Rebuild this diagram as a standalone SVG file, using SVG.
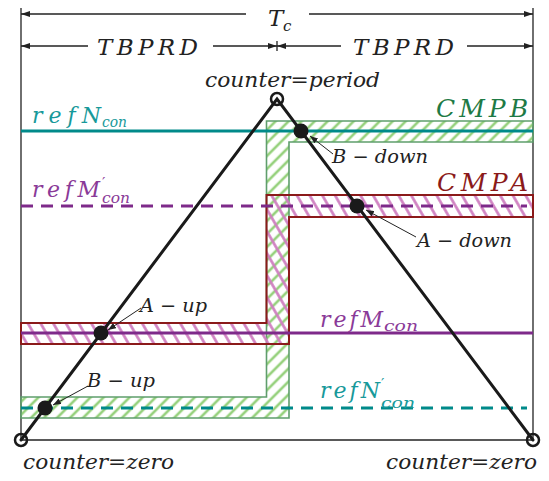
<svg xmlns="http://www.w3.org/2000/svg" width="549" height="481" viewBox="0 0 549 481">
<style>
.t{font-family:"DejaVu Serif","Liberation Serif",serif;font-style:italic;}
.pr{font-family:"DejaVu Serif","Liberation Serif",serif;font-style:normal;}
.frame{stroke:#222;stroke-width:1.3;fill:none;}
.dim{stroke:#222;stroke-width:1.3;fill:none;}
.tri{stroke:#1a1a1a;stroke-width:3;fill:none;stroke-linecap:round;}
.ann{stroke:#222;stroke-width:1;fill:none;}
.teal{stroke:#008a8a;stroke-width:3;fill:none;}
.purp{stroke:#7e2a8a;stroke-width:3;fill:none;}
.dash{stroke-dasharray:12 8;}
.dot{fill:#1a1a1a;}
.ring{fill:none;stroke:#1a1a1a;stroke-width:2.5;}
</style>
<defs>
<pattern id="hg" patternUnits="userSpaceOnUse" width="9.2" height="9.2" patternTransform="rotate(45)">
<line x1="4.6" y1="-1" x2="4.6" y2="11" stroke="#94d07a" stroke-width="2.6"/>
</pattern>
<pattern id="hp" patternUnits="userSpaceOnUse" width="11" height="11" patternTransform="rotate(-30)">
<line x1="5.5" y1="-1" x2="5.5" y2="12" stroke="#cf7ec0" stroke-width="2.6"/>
</pattern>
<marker id="ad" markerWidth="9" markerHeight="6" refX="9" refY="3" orient="auto-start-reverse" markerUnits="userSpaceOnUse">
<path d="M0,0 L9,3 L0,6 z" fill="#222"/>
</marker>
<marker id="aa" markerWidth="8" markerHeight="6" refX="8" refY="3" orient="auto" markerUnits="userSpaceOnUse">
<path d="M0,0 L8,3 L0,6 z" fill="#222"/>
</marker>
</defs>

<g id="frame">
<line class="frame" x1="21" y1="8" x2="21" y2="440"/>
<line class="frame" x1="533" y1="8" x2="533" y2="440"/>
<line class="frame" x1="21" y1="440" x2="533" y2="440" stroke-width="1.6"/>
</g>

<g id="dimensions">
<line class="dim" x1="21" y1="14" x2="246" y2="14" marker-start="url(#ad)"/>
<line class="dim" x1="309" y1="14" x2="533" y2="14" marker-end="url(#ad)"/>
<line class="dim" x1="21" y1="46" x2="88" y2="46" marker-start="url(#ad)"/>
<line class="dim" x1="213" y1="46" x2="277" y2="46" marker-end="url(#ad)"/>
<line class="dim" x1="277" y1="46" x2="341" y2="46" marker-start="url(#ad)"/>
<line class="dim" x1="467" y1="46" x2="533" y2="46" marker-end="url(#ad)"/>
<line class="dim" x1="277" y1="41" x2="277" y2="51"/>
<text class="t" x="268" y="26" font-size="23" fill="#222">T</text>
<text class="t" x="283" y="31" font-size="15" fill="#222">c</text>
<text class="t" x="97" y="55" font-size="23" fill="#222" textLength="101" lengthAdjust="spacing">TBPRD</text>
<text class="t" x="353" y="55" font-size="23" fill="#222" textLength="101" lengthAdjust="spacing">TBPRD</text>
</g>

<g id="cmpb-region">
<path d="M266.5,121 H533 V142 H289 V418 H21 V397 H266.5 Z" fill="url(#hg)" stroke="#5f9e6c" stroke-width="1.6"/>
</g>

<g id="cmpa-region">
<path d="M266.5,195 H533 V217 H289 V344 H21 V323 H266.5 Z" fill="url(#hp)" stroke="#8b1a1a" stroke-width="2"/>
</g>

<g id="connectors">
<line id="refN" class="teal" x1="21" y1="131" x2="533" y2="131"/>
<line id="refMp" class="purp dash" x1="21" y1="206" x2="527" y2="206"/>
<line id="refM" class="purp" x1="21" y1="333" x2="533" y2="333"/>
<line id="refNp" class="teal dash" x1="21" y1="408" x2="527" y2="408"/>
<polyline class="tri" points="21,440 277,99 533,440"/>
<line class="ann" x1="333" y1="154" x2="310" y2="136" marker-end="url(#aa)"/>
<line class="ann" x1="416" y1="237" x2="366" y2="210" marker-end="url(#aa)"/>
<line class="ann" x1="141" y1="308" x2="108" y2="330" marker-end="url(#aa)"/>
<line class="ann" x1="88" y1="386" x2="53" y2="405" marker-end="url(#aa)"/>
</g>

<g id="points">
<circle class="ring" cx="277" cy="99" r="6"/>
<circle class="ring" cx="21" cy="440" r="6"/>
<circle class="ring" cx="533" cy="440" r="6"/>
<circle class="dot" cx="301" cy="131" r="7.5"/>
<circle class="dot" cx="357" cy="206" r="7.5"/>
<circle class="dot" cx="101" cy="333" r="7.5"/>
<circle class="dot" cx="45" cy="408" r="7.5"/>
</g>

<g id="labels">
<text class="t" x="205" y="87" font-size="21" fill="#222" textLength="175" lengthAdjust="spacingAndGlyphs">counter=period</text>
<text class="t" x="23" y="469" font-size="21" fill="#222" textLength="151" lengthAdjust="spacingAndGlyphs">counter=zero</text>
<text class="t" x="386" y="469" font-size="21" fill="#222" textLength="151" lengthAdjust="spacingAndGlyphs">counter=zero</text>
<text class="t" x="436" y="117" font-size="25" fill="#1e7a45" textLength="92" lengthAdjust="spacing">CMPB</text>
<text class="t" x="437" y="191" font-size="25" fill="#8b1a1a" textLength="91" lengthAdjust="spacing">CMPA</text>
<text class="t" x="332" y="163" font-size="19" fill="#222" textLength="96" lengthAdjust="spacingAndGlyphs">B − down</text>
<text class="t" x="417" y="247" font-size="19" fill="#222" textLength="95" lengthAdjust="spacingAndGlyphs">A − down</text>
<text class="t" x="140" y="312" font-size="19" fill="#222" textLength="67" lengthAdjust="spacingAndGlyphs">A − up</text>
<text class="t" x="87" y="387" font-size="19" fill="#222" textLength="68" lengthAdjust="spacingAndGlyphs">B − up</text>
<g fill="#17999a">
<text class="t" x="32" y="123" font-size="22" textLength="69" lengthAdjust="spacing">refN</text>
<text class="t" x="102" y="127" font-size="15" textLength="25" lengthAdjust="spacingAndGlyphs">con</text>
</g>
<g fill="#8a3a98">
<text class="t" x="32" y="197" font-size="22" textLength="68" lengthAdjust="spacing">refM</text>
<text class="pr" x="102" y="188" font-size="15">′</text>
<text class="t" x="102" y="203" font-size="15" textLength="28" lengthAdjust="spacingAndGlyphs">con</text>
</g>
<g fill="#8a3a98">
<text class="t" x="320" y="327" font-size="22" textLength="63" lengthAdjust="spacing">refM</text>
<text class="t" x="384" y="331" font-size="15" textLength="34" lengthAdjust="spacingAndGlyphs">con</text>
</g>
<g fill="#17999a">
<text class="t" x="320" y="398" font-size="22" textLength="60" lengthAdjust="spacing">refN</text>
<text class="pr" x="381" y="389" font-size="15">′</text>
<text class="t" x="381" y="408" font-size="15" textLength="34" lengthAdjust="spacingAndGlyphs">con</text>
</g>
</g>
</svg>
